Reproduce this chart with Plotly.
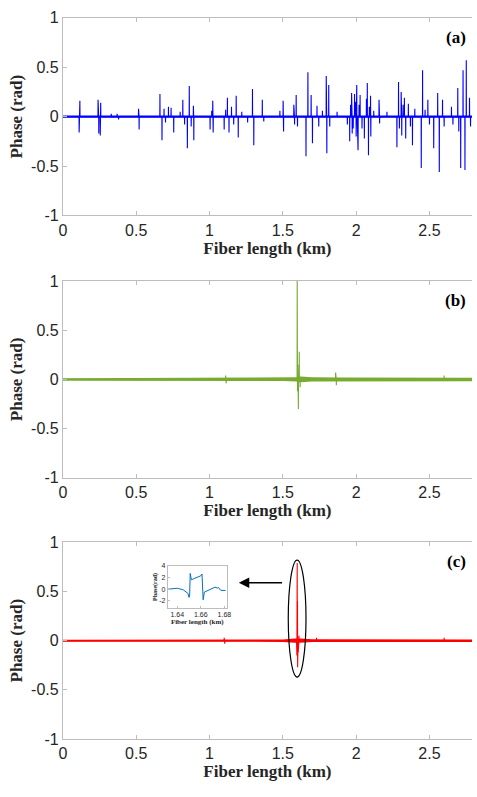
import plotly.graph_objects as go

# ---------------- data ----------------
x_ticks = [0, 0.5, 1, 1.5, 2, 2.5]
x_tick_text = ["0", "0.5", "1", "1.5", "2", "2.5"]
y_ticks = [-1, -0.5, 0, 0.5, 1]
y_tick_text = ["-1", "-0.5", "0", "0.5", "1"]

# panel (a): phase spikes along fibre (km, rad)
a_spike_km = [0.111, 0.116, 0.240, 0.245, 0.255, 0.258, 0.33, 0.37, 0.38, 0.516, 0.52,
              0.662, 0.676, 0.69, 0.70, 0.72, 0.738, 0.756, 0.80, 0.818, 0.83, 0.849,
              0.862, 0.875, 0.89, 0.893, 1.004, 1.015, 1.022, 1.025, 1.10, 1.11, 1.122,
              1.133, 1.15, 1.165, 1.182, 1.196, 1.22, 1.26, 1.293, 1.302, 1.36, 1.37,
              1.48, 1.502, 1.505, 1.575, 1.58, 1.591, 1.60, 1.658, 1.671, 1.693, 1.702,
              1.733, 1.745, 1.77, 1.796, 1.80, 1.813, 1.82, 1.87, 1.94, 1.956, 1.962,
              1.969, 1.973, 1.98, 1.989, 1.995, 2.0, 2.004, 2.008, 2.013, 2.02, 2.027,
              2.04, 2.056, 2.07, 2.076, 2.084, 2.09, 2.098, 2.1, 2.12, 2.156, 2.16,
              2.21, 2.278, 2.289, 2.295, 2.307, 2.311, 2.32, 2.329, 2.338, 2.356, 2.37,
              2.384, 2.40, 2.444, 2.453, 2.47, 2.489, 2.5, 2.529, 2.556, 2.567, 2.589,
              2.60, 2.65, 2.66, 2.693, 2.70, 2.713, 2.729, 2.742, 2.751, 2.773, 2.78]
a_spike_val = [-0.16, 0.16, 0.17, -0.17, -0.19, 0.14, 0.03, 0.03, -0.03, 0.08, -0.13,
               0.23, -0.24, 0.08, -0.06, 0.10, 0.09, -0.16, 0.05, 0.17, -0.08, -0.32,
               0.31, -0.10, 0.11, -0.24, -0.13, 0.06, 0.16, -0.16, -0.13, 0.07, 0.19,
               -0.16, 0.10, -0.08, 0.21, -0.21, 0.05, -0.06, 0.28, -0.29, 0.17, -0.05,
               0.06, 0.16, -0.15, 0.12, -0.08, 0.22, -0.10, -0.40, 0.45, 0.22, -0.27,
               0.11, -0.10, 0.06, 0.41, -0.37, 0.32, -0.10, 0.05, -0.08, -0.25, 0.12,
               0.24, -0.17, -0.12, 0.23, 0.15, -0.20, 0.32, -0.15, -0.34, 0.12, 0.22,
               -0.12, -0.22, 0.18, 0.34, -0.39, 0.10, 0.21, -0.20, 0.06, 0.17, -0.07,
               0.05, -0.31, 0.35, -0.12, 0.25, -0.19, 0.12, 0.19, -0.22, 0.13, -0.10,
               -0.29, 0.08, -0.52, 0.47, 0.07, 0.17, -0.08, -0.32, 0.24, -0.56, 0.17,
               -0.10, 0.10, -0.08, 0.29, -0.15, -0.52, 0.47, -0.54, 0.57, 0.19, -0.10]
a_noise_km = [0, 2.79]
a_noise = [0.011, 0.011]

# panel (b)
b_spike_km = [1.110, 1.114, 1.598, 1.600, 1.603, 1.606, 1.612, 1.618, 1.860, 1.865, 2.600]
b_spike_val = [0.04, -0.04, 1.05, -0.12, 0.15, -0.30, 0.28, -0.08, 0.07, -0.06, 0.04]
b_noise_km = [0, 0.5, 1.0, 1.3, 1.5, 1.59, 1.62, 1.7, 1.9, 2.2, 2.79]
b_noise = [0.013, 0.014, 0.015, 0.016, 0.016, 0.022, 0.03, 0.022, 0.02, 0.018, 0.018]

# panel (c)
c_spike_km = [1.100, 1.104, 1.594, 1.596, 1.598, 1.600, 1.601, 1.603, 1.605, 1.610, 1.730, 2.600]
c_spike_val = [0.03, -0.03, 0.30, -0.15, 0.79, 0.40, -0.27, 0.35, -0.12, 0.05, 0.03, 0.03]
c_noise_km = [0, 1.0, 1.5, 1.585, 1.615, 1.7, 2.79]
c_noise = [0.010, 0.011, 0.012, 0.022, 0.022, 0.014, 0.012]

# inset (zoom of the event, km vs rad)
inset_km = [1.632, 1.640, 1.645, 1.649, 1.650, 1.6505, 1.651, 1.652, 1.654, 1.656,
            1.660, 1.661, 1.6615, 1.662, 1.663, 1.665, 1.667, 1.670, 1.672, 1.674,
            1.675, 1.677, 1.681]
inset_val = [0.0, 0.17, -0.1, -0.7, -1.4, -1.0, 2.7, 1.6, 1.8, 2.0,
             2.3, 2.6, -0.5, -1.8, -0.5, -0.3, -0.1, 0.2, 0.35, 0.2,
             0.3, -0.2, -0.2]
inset_xticks = [1.64, 1.66, 1.68]
inset_yticks = [-2, 0, 2, 4]
inset_ytext = ["-2", "0", "2", "4"]

panel_labels = ["(a)", "(b)", "(c)"]
colors = ["#0000FF", "#77AC30", "#FF0000"]

# ---------------- helpers ----------------
def spike_line(kms, vals, w=0.0008):
    xs, ys = [0.0], [0.0]
    for k, v in sorted(zip(kms, vals)):
        xs += [k - w, k, k + w]
        ys += [0.0, v, 0.0]
    xs.append(2.79)
    ys.append(0.0)
    return xs, ys


def band(kms, env):
    xs = list(kms) + list(kms)[::-1]
    ys = list(env) + [-e for e in env][::-1]
    return xs, ys


W, H = 477, 797
xdom = [60 / W, 1.0]
panels_px = [(10, 212), (279, 480), (546, 747)]
ydoms = [[1 - b / H, 1 - t / H] for t, b in panels_px]

fig = go.Figure()
spikes = [(a_spike_km, a_spike_val), (b_spike_km, b_spike_val), (c_spike_km, c_spike_val)]
noises = [(a_noise_km, a_noise), (b_noise_km, b_noise), (c_noise_km, c_noise)]

axis_col = "#BDBDBD"
tick_font = dict(family="Liberation Sans, Arial", size=16, color="#262626")
title_font = dict(family="Liberation Serif, Times New Roman", size=17, color="#262626")

for i in range(3):
    sfx = "" if i == 0 else str(i + 1)
    bx, by = band(*noises[i])
    fig.add_trace(go.Scatter(x=bx, y=by, fill="toself", fillcolor=colors[i],
                             line=dict(width=0), mode="lines", hoverinfo="skip",
                             xaxis="x" + sfx, yaxis="y" + sfx, showlegend=False))
    sx, sy = spike_line(*spikes[i])
    fig.add_trace(go.Scatter(x=sx, y=sy, mode="lines", line=dict(color=colors[i], width=1.1),
                             xaxis="x" + sfx, yaxis="y" + sfx, showlegend=False))
    fig.layout["xaxis" + sfx] = dict(
        domain=xdom, range=[0, 2.79], anchor="y" + sfx,
        tickvals=x_ticks, ticktext=x_tick_text, ticks="inside", ticklen=4,
        tickcolor=axis_col, showline=True, linecolor=axis_col, linewidth=1,
        mirror="ticks", showgrid=False, zeroline=False, tickfont=tick_font,
        title=dict(text="<b>Fiber length (km)</b>", font=title_font, standoff=2),
    )
    fig.layout["yaxis" + sfx] = dict(
        domain=ydoms[i], range=[-1, 1], anchor="x" + sfx,
        tickvals=y_ticks, ticktext=y_tick_text, ticks="inside", ticklen=4,
        tickcolor=axis_col, showline=True, linecolor=axis_col, linewidth=1,
        showgrid=False, zeroline=False, tickfont=tick_font,
        title=dict(text="<b>Phase (rad)</b>", font=title_font, standoff=4),
    )
    fig.add_annotation(text="<b>" + panel_labels[i] + "</b>", xref="paper", yref="paper",
                       x=473 / W, y=1 - (panels_px[i][0] + 20) / H, xanchor="right",
                       yanchor="middle", showarrow=False,
                       font=dict(family="Liberation Serif, Times New Roman", size=17,
                                 color="#000000"))

# inset
fig.add_trace(go.Scatter(x=inset_km, y=inset_val, mode="lines",
                         line=dict(color="#0072BD", width=1), xaxis="x4", yaxis="y4",
                         showlegend=False))
small_tick = dict(family="Liberation Sans, Arial", size=7, color="#262626")
small_title = dict(family="Liberation Serif, Times New Roman", size=7, color="#262626")
fig.update_layout(
    xaxis4=dict(domain=[167 / W, 227 / W], range=[1.632, 1.682], anchor="y4",
                tickvals=inset_xticks, ticks="inside", ticklen=2, tickcolor=axis_col,
                showline=True, linecolor=axis_col, mirror=True, showgrid=False,
                zeroline=False, tickfont=small_tick,
                title=dict(text="<b>Fiber length (km)</b>", font=small_title, standoff=1)),
    yaxis4=dict(domain=[1 - 613 / H, 1 - 570 / H], range=[-3.2, 4], anchor="x4",
                tickvals=inset_yticks, ticktext=inset_ytext, ticks="inside", ticklen=2,
                tickcolor=axis_col, showline=True, linecolor=axis_col, mirror=True,
                showgrid=False, zeroline=False, tickfont=small_tick,
                title=dict(text="<b>Phase(rad)</b>", font=dict(family="Liberation Serif", size=6,
                                                               color="#262626"), standoff=1)),
)

# ellipse and arrow in panel (c)
fig.add_shape(type="circle", xref="x3", yref="y3", x0=1.537, x1=1.658, y0=-0.37, y1=0.82,
              line=dict(color="black", width=1.2))
fig.add_annotation(xref="x3", yref="y3", axref="x3", ayref="y3", x=1.20, y=0.59,
                   ax=1.505, ay=0.59, showarrow=True, arrowhead=2, arrowsize=1.3,
                   arrowwidth=1.6, arrowcolor="black", text="")

fig.update_layout(width=W, height=H, margin=dict(l=0, r=0, t=0, b=0),
                  paper_bgcolor="white", plot_bgcolor="white")
fig.write_html("out.html", config={"displayModeBar": False},
               post_script="document.body.style.margin='0';document.body.style.overflow='hidden';")
